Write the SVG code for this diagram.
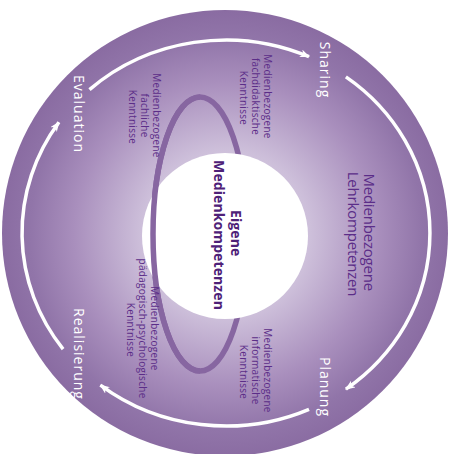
<svg xmlns="http://www.w3.org/2000/svg" width="455" height="454" viewBox="0 0 455 454">
  <defs>
    <radialGradient id="discFill" cx="226" cy="234" r="223" gradientUnits="userSpaceOnUse">
      <stop offset="0" stop-color="#ece4f1"/>
      <stop offset="0.38" stop-color="#cdbfda"/>
      <stop offset="0.68" stop-color="#a98fbd"/>
      <stop offset="0.88" stop-color="#9175a9"/>
      <stop offset="1" stop-color="#8a6ca2"/>
    </radialGradient>
    <marker id="head" viewBox="0 0 10 8" refX="9" refY="4" markerWidth="10" markerHeight="8" markerUnits="userSpaceOnUse" orient="auto">
      <path d="M0,0 L10,4 L0,8 L3,4 Z" fill="#ffffff"/>
    </marker>
  </defs>
  <style>
    .step { font-family: "Open Sans", "Noto Sans", sans-serif; font-size: 14px; fill: #ffffff; letter-spacing: 1px; }
    .know { font-family: "Open Sans", "Noto Sans", sans-serif; font-size: 10px; fill: #5b2d88; letter-spacing: 0.3px; }
    .title { font-family: "Open Sans", "Noto Sans", sans-serif; font-size: 15px; fill: #5b2d88; letter-spacing: -0.2px; }
    .core { font-family: "Open Sans", "Noto Sans", sans-serif; font-size: 14px; font-weight: bold; fill: #4e2178; letter-spacing: 0.1px; }
    .cycle { fill: none; stroke: #ffffff; stroke-width: 3.5; stroke-linecap: butt; marker-end: url(#head); }
    .ring { fill: none; stroke: #8766a1; stroke-width: 5.5; }
  </style>

  <!-- outer disc -->
  <g id="disc">
    <circle cx="225" cy="233" r="223" fill="url(#discFill)"/>
  </g>

  <!-- knowledge ring: right half passes behind the core circle -->
  <g id="knowledge-ring">
    <ellipse class="ring" cx="200" cy="234" rx="47" ry="137"/>
  </g>

  <!-- core circle -->
  <g id="core">
    <circle cx="225" cy="236" r="83" fill="#ffffff"/>
    <path class="ring" d="M 200 97 A 47 137 0 0 0 200 371"/>
    <text class="core" transform="translate(231,235) rotate(90)" text-anchor="middle">
      <tspan x="0" dy="0">Eigene</tspan>
      <tspan x="0" dy="17">Medienkompetenzen</tspan>
    </text>
  </g>

  <!-- cycle arrows -->
  <g id="connectors">
    <path class="cycle" d="M 89.5 89.6 A 204 193 0 0 1 309.0 56.7"/>
    <path class="cycle" d="M 345.9 76.9 A 204 193 0 0 1 345.9 389.1"/>
    <path class="cycle" d="M 309.0 409.3 A 204 193 0 0 1 100.4 385.1"/>
    <path class="cycle" d="M 63.1 349.1 A 204 193 0 0 1 58.9 122.3"/>
  </g>

  <!-- cycle steps -->
  <g id="sharing">
    <text class="step" transform="translate(320,70) rotate(90)" text-anchor="middle">Sharing</text>
  </g>
  <g id="planung">
    <text class="step" transform="translate(320,387) rotate(90)" text-anchor="middle">Planung</text>
  </g>
  <g id="realisierung">
    <text class="step" transform="translate(74,354) rotate(90)" text-anchor="middle">Realisierung</text>
  </g>
  <g id="evaluation">
    <text class="step" transform="translate(74,114) rotate(90)" text-anchor="middle">Evaluation</text>
  </g>

  <!-- outer competence label -->
  <g id="lehrkompetenzen">
    <text class="title" transform="translate(364,234) rotate(90)" text-anchor="middle">
      <tspan x="0" dy="0">Medienbezogene</tspan>
      <tspan x="0" dy="16">Lehrkompetenzen</tspan>
    </text>
  </g>

  <!-- knowledge areas -->
  <g id="fachdidaktisch">
    <text class="know" transform="translate(264,98) rotate(90)" text-anchor="middle">
      <tspan x="0" dy="0">Medienbezogene</tspan>
      <tspan x="0" dy="12">fachdidaktische</tspan>
      <tspan x="0" dy="12">Kenntnisse</tspan>
    </text>
  </g>
  <g id="fachlich">
    <text class="know" transform="translate(153,117) rotate(90)" text-anchor="middle">
      <tspan x="0" dy="0">Medienbezogene</tspan>
      <tspan x="0" dy="12">fachliche</tspan>
      <tspan x="0" dy="12">Kenntnisse</tspan>
    </text>
  </g>
  <g id="paedagogisch">
    <text class="know" transform="translate(151,330) rotate(90)" text-anchor="middle">
      <tspan x="0" dy="0">Medienbezogene</tspan>
      <tspan x="0" dy="12">pädagogisch-psychologische</tspan>
      <tspan x="0" dy="12">Kenntnisse</tspan>
    </text>
  </g>
  <g id="informatisch">
    <text class="know" transform="translate(264,372) rotate(90)" text-anchor="middle">
      <tspan x="0" dy="0">Medienbezogene</tspan>
      <tspan x="0" dy="12">informatische</tspan>
      <tspan x="0" dy="12">Kenntnisse</tspan>
    </text>
  </g>
</svg>
